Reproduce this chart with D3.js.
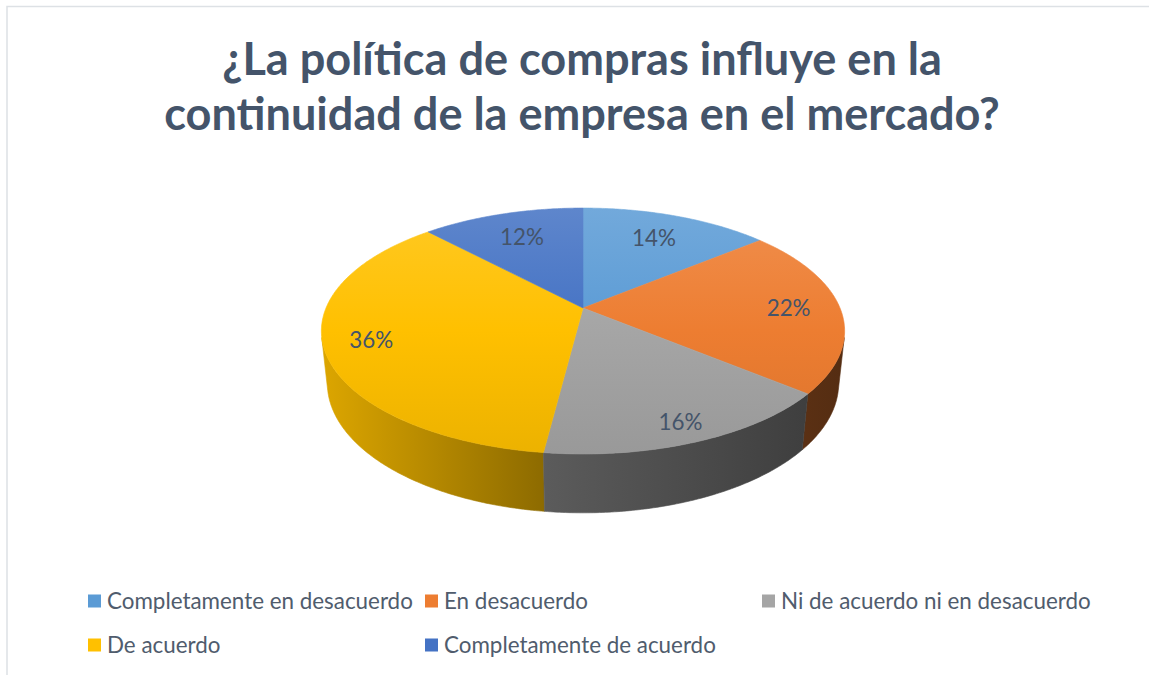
<!DOCTYPE html>
<html>
<head>
<meta charset="utf-8">
<script src="https://cdn.jsdelivr.net/npm/d3@7"></script>
<style>
  body { margin: 0; background: #fff; }
  svg { display: block; font-family: Lato, "Open Sans", sans-serif; }
</style>
</head>
<body>
<svg id="chart" width="1149" height="675"></svg>
<script>
// chart data
const titleLines = ["¿La política de compras influye en la", "continuidad de la empresa en el mercado?"];
const categories = ["Completamente en desacuerdo", "En desacuerdo", "Ni de acuerdo ni en desacuerdo", "De acuerdo", "Completamente de acuerdo"];
const values = [14, 22, 16, 36, 12];
const colors = ["#5b9bd5", "#ed7d31", "#a5a5a5", "#ffc000", "#4472c4"];

const svg = d3.select("#chart");
const W = 1149, H = 675;

// light frame (left and top edges only, as in the picture)
svg.append("path")
    .attr("d", `M7,${H} V6.5 H${W}`)
    .attr("fill", "none")
    .attr("stroke", "#dde1e5")
    .attr("stroke-width", 1.5);

// title, fitted to the reference width
const title = svg.append("text")
    .attr("text-anchor", "middle")
    .attr("fill", "#44546a")
    .attr("font-weight", "bold")
    .attr("font-size", 42);
title.selectAll("tspan")
    .data(titleLines)
    .enter().append("tspan")
    .attr("x", 582)
    .attr("y", (d, i) => 75 + i * 55)
    .text(d => d);
const t1 = title.select("tspan").node().getComputedTextLength();
title.attr("font-size", 42 * 720 / t1);

// 3D pie projection
const cx = 583, cy = 308, radius = 257;
const tilt = 27.5 * Math.PI / 180;
const camDist = 4.74;   // camera distance in pie radii
const depth = 0.23;     // thickness in pie radii

function project(a, r, h) {
    const u = r * Math.sin(a), v = -r * Math.cos(a);
    const dz = 1 - (v * Math.cos(tilt) + h * Math.sin(tilt)) / camDist;
    return [cx + radius * u / dz, cy + radius * (v * Math.sin(tilt) - h * Math.cos(tilt)) / dz];
}

const pie = d3.pie().sort(null).value(d => d)(values);
const color = d3.scaleOrdinal().domain(categories).range(colors);
const line = d3.line();

function arcPoints(a0, a1, h) {
    const n = Math.max(2, Math.ceil((a1 - a0) / 0.01));
    return d3.range(n + 1).map(i => project(a0 + (a1 - a0) * i / n, 1, h));
}

const defs = svg.append("defs");
const yTop = project(0, 1, 0)[1], yBot = project(Math.PI, 1, 0)[1];
const xLeft = project(1.5 * Math.PI, 1, 0)[0], xRight = project(0.5 * Math.PI, 1, 0)[0];

categories.forEach((c, i) => {
    const base = d3.rgb(colors[i]);
    const g = defs.append("linearGradient")
        .attr("id", "top" + i)
        .attr("gradientUnits", "userSpaceOnUse")
        .attr("x1", 0).attr("x2", 0).attr("y1", yTop).attr("y2", yBot);
    g.append("stop").attr("offset", 0).attr("stop-color", d3.interpolateRgb(base, "#fff")(0.14));
    g.append("stop").attr("offset", 0.5).attr("stop-color", base);
    g.append("stop").attr("offset", 1).attr("stop-color", base.darker(0.22));

    const shade = (k) => d3.rgb(base.r * k, base.g * k, base.b * k);
    const w = defs.append("linearGradient")
        .attr("id", "wall" + i)
        .attr("gradientUnits", "userSpaceOnUse")
        .attr("y1", 0).attr("y2", 0).attr("x1", xLeft).attr("x2", xRight);
    w.append("stop").attr("offset", 0).attr("stop-color", shade(0.86));
    w.append("stop").attr("offset", 0.43).attr("stop-color", shade(0.55));
    w.append("stop").attr("offset", 1).attr("stop-color", shade(0.36));
});

// visible part of the outer wall
const aVis0 = Math.acos(-1 / (camDist * Math.cos(tilt)));
const aVis1 = 2 * Math.PI - aVis0;

const walls = pie.map((d, i) => {
    const a0 = Math.max(d.startAngle, aVis0), a1 = Math.min(d.endAngle, aVis1);
    if (a1 <= a0) return null;
    const pts = arcPoints(a0, a1, 0).concat(arcPoints(a0, a1, -depth).reverse());
    return { i, pts, mid: -Math.cos((a0 + a1) / 2) };
}).filter(d => d).sort((a, b) => a.mid - b.mid);

svg.append("g").selectAll("path")
    .data(walls)
    .enter().append("path")
    .attr("d", d => line(d.pts) + "Z")
    .attr("fill", d => `url(#wall${d.i})`)
    .attr("stroke", d => `url(#wall${d.i})`)
    .attr("stroke-width", 0.6);

svg.append("g").selectAll("path")
    .data(pie)
    .enter().append("path")
    .attr("d", d => line([project(0, 0, 0)].concat(arcPoints(d.startAngle, d.endAngle, 0))) + "Z")
    .attr("fill", (d, i) => `url(#top${i})`)
    .attr("stroke", (d, i) => `url(#top${i})`)
    .attr("stroke-width", 0.6);

// legend
const legendCols = 3;
const legend = svg.append("g");
const items = legend.selectAll("g")
    .data(categories)
    .enter().append("g")
    .attr("transform", (d, i) => `translate(${88 + (i % legendCols) * 337},${601 + Math.floor(i / legendCols) * 44})`);
items.append("rect")
    .attr("x", 0).attr("y", -6.5)
    .attr("width", 13).attr("height", 13)
    .attr("fill", d => color(d));
const legendText = items.append("text")
    .attr("x", 19)
    .attr("dy", "0.35em")
    .attr("fill", "#505c6d")
    .attr("font-size", 20)
    .text(d => d);
const lw = legendText.node().getComputedTextLength();
const legendSize = 20 * 306 / lw;
legendText.attr("font-size", legendSize);

// data labels on the top face
const total = d3.sum(values);
svg.append("g").selectAll("text")
    .data(pie)
    .enter().append("text")
    .attr("transform", d => {
        const a = (d.startAngle + d.endAngle) / 2;
        const p = project(a, 0.8 - 0.08 * Math.cos(a), 0);
        return `translate(${p[0]},${p[1]})`;
    })
    .attr("text-anchor", "middle")
    .attr("dy", "0.35em")
    .attr("fill", "#44546a")
    .attr("font-size", legendSize)
    .text(d => Math.round(d.value / total * 100) + "%");
</script>
</body>
</html>
